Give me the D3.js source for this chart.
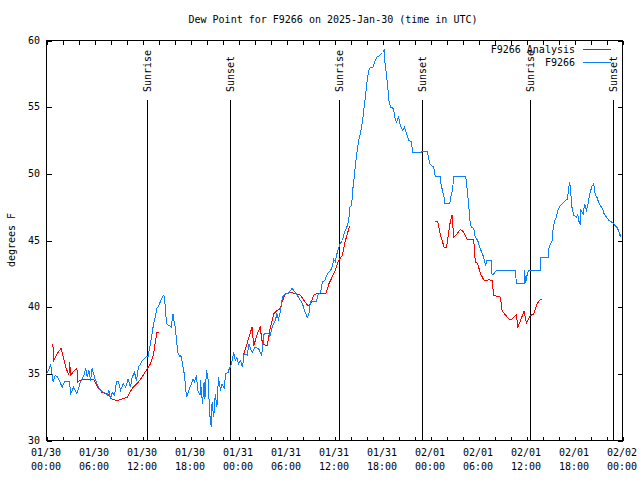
<!DOCTYPE html>
<html><head><meta charset="utf-8">
<script src="https://cdn.jsdelivr.net/npm/d3@7"></script>
<style>
body{margin:0;background:#fff}
text{font-family:"DejaVu Sans Mono",monospace;font-size:10px;fill:#000}
</style>
</head><body><svg id="c" width="640" height="480"></svg>
<script>
// ---- data (hours since 2025-01-30 00:00 UTC) ----
const titleText = "Dew Point for F9266 on 2025-Jan-30 (time in UTC)";
const yLabel = "degrees F";
const seriesNames = ["F9266 Analysis", "F9266"];
const seriesColors = ["#ff0000", "#0a80ff"];

const stationHours = [0.0,0.3,0.5,0.83,1.1,1.4,1.67,1.96,2.25,2.9,3.0,3.4,3.8,4.25,4.67,4.9,5.1,5.3,5.5,5.7,6.0,6.3,6.75,7.2,7.6,7.8,8.0,8.2,8.5,8.75,9.0,9.25,9.6,9.9,10.2,10.5,10.7,11.0,11.25,11.5,12.0,12.4,12.7,13.0,13.4,13.6,13.8,14.0,14.3,14.6,14.75,15.0,15.4,15.6,15.8,16.0,16.1,16.4,16.7,16.8,17.1,17.25,17.5,17.8,18.1,18.3,18.5,18.75,18.9,19.2,19.25,19.5,19.7,19.8,20.0,20.2,20.4,20.6,20.7,20.9,21.1,21.3,21.5,21.75,21.95,22.2,22.4,22.7,22.9,23.0,23.2,23.4,23.6,23.8,24.0,24.25,24.5,24.7,25.1,25.3,25.5,25.7,26.1,26.5,26.9,27.2,27.8,27.9,28.2,28.6,28.8,29.0,29.25,29.5,29.7,29.9,30.2,30.5,30.7,31.1,31.5,32.0,32.25,32.6,32.8,33.0,33.75,33.9,34.25,34.5,34.8,35.1,35.5,35.7,35.9,36.1,36.3,36.7,37.0,37.25,37.6,37.8,37.9,38.1,38.2,38.3,38.5,38.6,38.8,39.0,39.25,39.5,39.7,39.9,40.1,40.3,40.5,40.8,41.1,41.3,41.7,42.0,42.2,42.3,42.5,42.7,42.8,43.0,43.4,43.5,43.75,44.0,44.25,44.5,44.75,45.0,45.3,45.6,45.8,46.75,47.1,47.6,47.9,48.4,48.6,49.2,49.3,49.5,49.7,49.8,50.4,50.6,50.75,50.9,52.4,52.6,52.8,52.9,53.1,53.4,53.6,53.9,54.2,54.5,54.75,54.9,55.0,55.6,55.7,55.9,56.25,58.6,58.75,59.7,59.75,59.9,60.1,60.3,61.7,61.75,62.7,62.8,63.0,63.2,63.3,63.5,63.75,63.9,64.2,64.5,64.9,65.1,65.3,65.4,65.6,65.7,65.9,66.25,66.4,66.5,66.7,66.8,67.1,67.25,67.5,67.7,67.9,68.2,68.4,68.6,68.8,69.0,69.25,69.5,69.7,70.0,70.3,70.6,70.9,71.1,71.3,71.5,71.75,71.8];
const stationValues = [35.0,35.3,35.75,34.4,34.9,34.75,34.4,34.0,34.4,34.4,33.5,34.0,33.5,34.4,34.9,35.45,34.75,35.25,34.5,35.4,34.75,34.25,33.75,33.6,33.4,33.75,33.1,33.6,33.4,34.4,34.4,33.75,34.25,34.0,34.6,34.0,34.75,35.1,34.5,35.5,36.0,36.25,36.3,37.3,38.8,39.25,39.9,40.1,40.5,40.9,40.75,38.75,38.6,38.5,39.5,38.75,38.5,36.6,36.25,36.4,35.4,34.9,33.25,33.75,34.25,34.6,34.4,34.9,33.75,33.4,34.5,32.75,34.4,33.1,35.25,34.6,32.0,31.0,32.9,31.75,33.5,32.5,34.75,33.75,34.25,33.9,35.0,35.1,35.5,35.5,36.0,36.6,36.0,36.25,35.75,36.0,35.5,36.5,36.4,37.25,36.9,36.6,37.0,36.9,36.4,38.0,38.0,37.75,38.5,39.0,39.5,39.1,39.75,40.75,40.9,41.0,41.0,41.25,41.4,41.1,40.75,40.25,39.75,39.25,39.5,40.4,40.4,40.9,41.1,41.9,42.0,42.5,42.75,43.0,43.6,43.4,44.0,44.75,45.0,45.6,46.1,46.6,47.5,47.6,48.1,48.9,49.9,50.6,51.6,52.4,53.1,53.9,55.0,56.0,57.1,57.75,58.0,58.0,58.5,58.75,58.9,59.1,59.25,58.4,57.4,56.25,55.5,55.0,54.9,54.25,53.9,54.25,53.6,53.25,53.5,53.0,52.5,52.4,51.6,51.6,51.7,51.7,50.75,50.5,49.8,49.8,49.25,48.75,48.25,47.75,47.75,48.5,48.75,49.8,49.8,48.75,47.5,46.6,46.0,45.9,45.25,45.0,44.4,44.0,43.5,43.1,43.5,43.5,42.4,42.5,42.75,42.75,41.75,41.75,42.75,41.8,42.5,42.75,42.75,43.75,43.75,44.4,44.75,45.0,45.75,46.5,46.75,47.25,47.6,47.75,48.0,48.1,49.0,49.4,48.1,47.4,46.9,46.75,47.0,46.5,46.25,47.25,47.0,47.75,47.25,47.75,48.5,49.1,49.25,48.4,48.25,47.9,47.6,47.4,47.0,46.75,46.5,46.4,46.25,46.1,46.0,45.75,45.25,45.5];

// null marks a gap in the analysis series
const analysisHours = [0.79,0.92,1.33,1.83,2.4,2.8,2.9,3.0,3.8,3.9,4.5,5.9,6.5,6.95,7.6,8.2,8.8,9.4,10.1,10.7,11.3,11.95,12.6,13.0,13.4,13.6,13.8,14.0,null,
  24.6,24.9,25.3,25.7,25.9,26.3,26.7,27.0,27.6,27.9,28.4,28.8,29.25,29.5,29.9,30.5,31.3,31.75,32.2,32.7,33.0,33.4,33.75,34.9,35.3,35.7,36.1,36.5,37.0,37.25,37.6,37.9,null,
  48.6,48.9,49.25,49.7,50.0,50.3,50.5,50.7,50.9,51.3,51.7,52.0,52.6,53.4,53.6,53.9,54.25,54.7,55.3,55.7,55.9,56.3,56.75,56.95,57.4,57.8,58.2,58.75,58.9,59.25,59.7,60.0,60.4,60.6,60.9,61.3,61.75,61.9];
const analysisValues = [37.25,36.0,36.5,36.9,35.5,34.9,35.9,34.9,35.45,34.4,34.6,34.6,33.9,33.6,33.5,33.1,33.0,33.1,33.25,33.9,34.25,34.75,35.4,35.75,36.5,37.4,38.1,38.1,null,
  36.4,36.9,37.75,38.5,37.1,37.9,38.5,37.25,37.1,38.25,39.5,39.75,39.9,40.5,41.0,41.1,41.0,40.9,40.5,40.1,40.25,40.9,41.0,41.0,41.75,42.25,42.75,43.5,43.9,44.75,45.5,46.1,null,
  46.4,46.4,45.4,44.5,44.5,45.75,46.5,46.9,45.25,45.5,45.8,45.75,45.1,45.05,43.4,43.25,42.5,42.0,42.05,42.0,40.9,40.8,40.75,39.7,39.4,39.1,39.1,39.45,38.45,39.0,39.7,38.8,39.3,39.4,39.5,40.25,40.6,40.6];

const sunHours = [12.67, 23.04, 36.67, 47.04, 60.54, 70.92];
const sunLabels = ["Sunrise","Sunset","Sunrise","Sunset","Sunrise","Sunset"];

const yTicks = [30,35,40,45,50,55,60];
const xLabelHours = [0,6,12,18,24,30,36,42,48,54,60,66,72];
const xLabelDates = ["01/30","01/30","01/30","01/30","01/31","01/31","01/31","01/31","02/01","02/01","02/01","02/01","02/02"];
const xLabelTimes = ["00:00","06:00","12:00","18:00","00:00","06:00","12:00","18:00","00:00","06:00","12:00","18:00","00:00"];
const xMinorStepHours = 2;

// ---- chart ----
const t0 = Date.UTC(2025,0,30);
const toDate = h => new Date(t0 + h*3600e3);
const L=46, R=622, T=40, B=440;
const svg = d3.select("#c");
const g = svg.append("g").attr("transform","translate(0.5,0.5)");

const x = d3.scaleUtc().domain([toDate(0), toDate(72)]).range([L,R]);
const y = d3.scaleLinear().domain([30,60]).range([B,T]);

// title
svg.append("text").attr("x",333).attr("y",23).attr("text-anchor","middle").text(titleText);
// y label
svg.append("text").attr("transform","translate(15,240) rotate(-90)").attr("text-anchor","middle").text(yLabel);

// x ticks (every 2h) bottom & top
const minorTicks = d3.range(0,72+1e-9,xMinorStepHours).map(toDate);
const axB = g.append("g").attr("transform",`translate(0,${B})`)
  .call(d3.axisBottom(x).tickValues(minorTicks).tickSizeInner(-4).tickSizeOuter(0).tickFormat(""));
const axT = g.append("g").attr("transform",`translate(0,${T})`)
  .call(d3.axisTop(x).tickValues(minorTicks).tickSizeInner(-4).tickSizeOuter(0).tickFormat(""));
// y ticks left & right
const axL = g.append("g").attr("transform",`translate(${L},0)`)
  .call(d3.axisLeft(y).tickValues(yTicks).tickSizeInner(-5).tickSizeOuter(0).tickFormat(""));
const axR = g.append("g").attr("transform",`translate(${R},0)`)
  .call(d3.axisRight(y).tickValues(yTicks).tickSizeInner(-5).tickSizeOuter(0).tickFormat(""));
[axB,axT,axL,axR].forEach(a=>{a.selectAll(".domain").remove();a.selectAll("line").attr("stroke","#000").attr("shape-rendering","crispEdges");});

// y tick labels
svg.selectAll(".ylab").data(yTicks).join("text").attr("class","ylab")
  .attr("x",40).attr("y",d=>y(d)).attr("dy","0.35em").attr("text-anchor","end").text(d=>d);

// x tick labels
const xl = svg.selectAll(".xlab").data(xLabelHours).join("text").attr("class","xlab")
  .attr("text-anchor","middle");
xl.append("tspan").attr("x",d=>x(toDate(d))).attr("y",456).text((d,i)=>xLabelDates[i]);
xl.append("tspan").attr("x",d=>x(toDate(d))).attr("y",470).text((d,i)=>xLabelTimes[i]);

// frame
g.append("rect").attr("x",L).attr("y",T).attr("width",R-L).attr("height",B-T)
  .attr("fill","none").attr("stroke","#000").attr("shape-rendering","crispEdges");

// sun lines
sunHours.forEach((h,i)=>{
  const xx = Math.round(x(toDate(h)));
  g.append("line").attr("x1",xx).attr("x2",xx).attr("y1",99).attr("y2",B)
    .attr("stroke","#000").attr("shape-rendering","crispEdges");
  svg.append("text").attr("transform",`translate(${xx+4},92) rotate(-90)`).attr("text-anchor","start").text(sunLabels[i]);
});

// lines
const line = d3.line().defined(d=>d[0]!==null && d[1]!==null)
  .x(d=>x(toDate(d[0]))).y(d=>y(d[1])).curve(d3.curveLinear);
const analysisPts = analysisHours.map((h,i)=>[h,analysisValues[i]]);
const stationPts = stationHours.map((h,i)=>[h,stationValues[i]]);
g.append("path").attr("d",line(analysisPts)).attr("fill","none").attr("stroke",seriesColors[0]).attr("stroke-width",1).attr("shape-rendering","crispEdges");
g.append("path").attr("d",line(stationPts)).attr("fill","none").attr("stroke",seriesColors[1]).attr("stroke-width",1).attr("shape-rendering","crispEdges");

// legend
[0,1].forEach(i=>{
  const yy = 49 + i*13;
  svg.append("text").attr("x",575).attr("y",yy).attr("dy","0.35em").attr("text-anchor","end").text(seriesNames[i]);
  g.append("line").attr("x1",582).attr("x2",610).attr("y1",yy).attr("y2",yy).attr("stroke",seriesColors[i]).attr("shape-rendering","crispEdges");
});
</script>
</body></html>
